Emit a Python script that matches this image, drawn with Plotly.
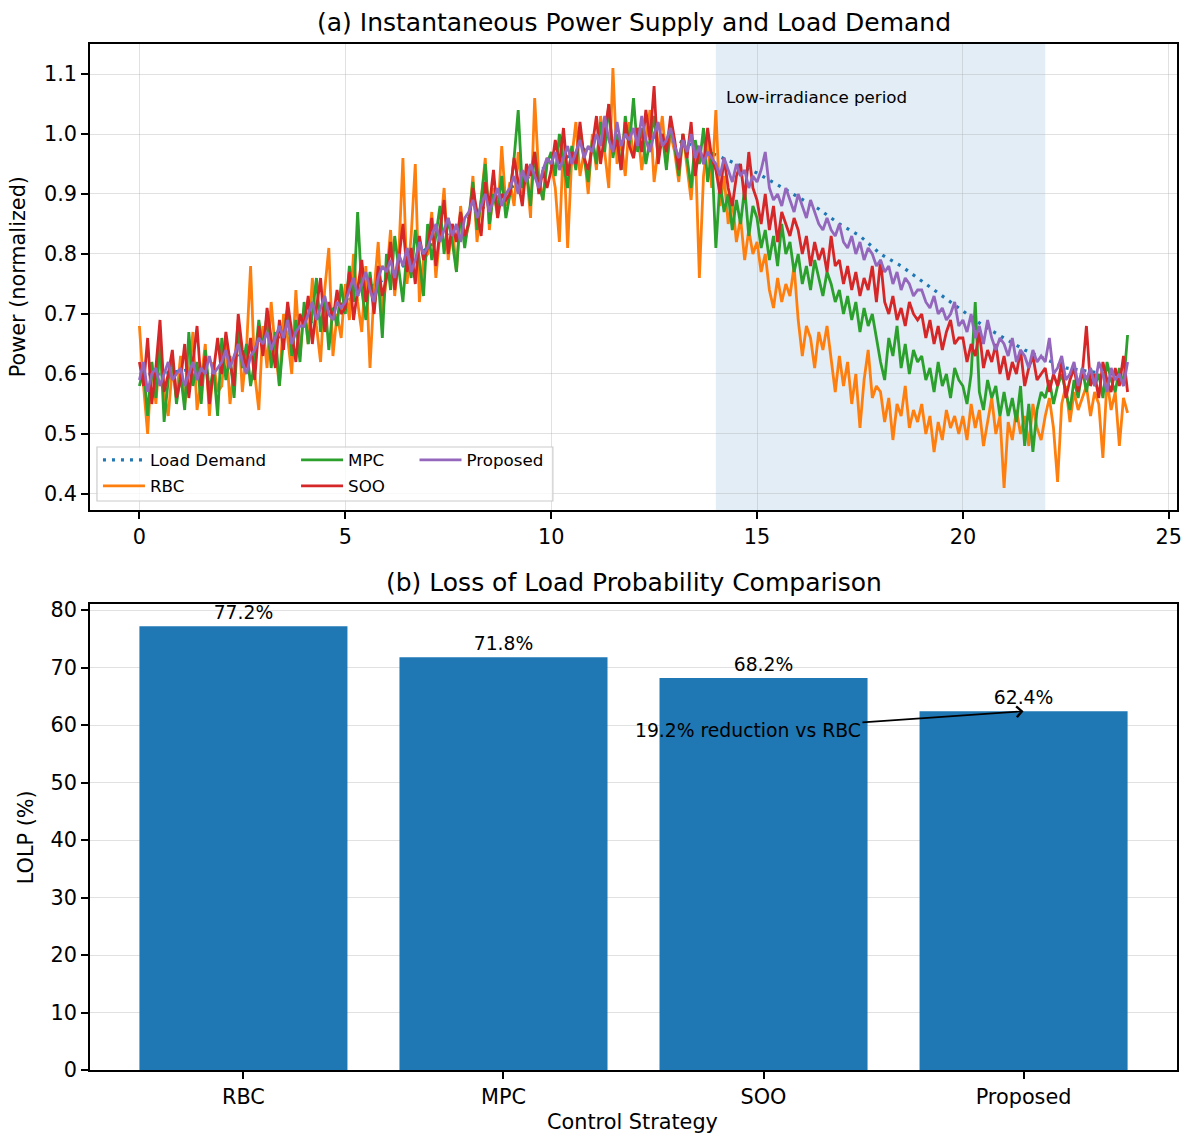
import plotly.graph_objects as go

FONT = "DejaVu Sans"

# ---------------- Data: panel (a) ----------------
# Load demand, sampled every 0.5 h (hours 0..24)
load_step = 0.5
load_demand = [0.60, 0.60, 0.605, 0.61, 0.62, 0.635, 0.65, 0.665, 0.68, 0.70,
               0.72, 0.74, 0.76, 0.785, 0.81, 0.835, 0.86, 0.885, 0.91, 0.93,
               0.95, 0.965, 0.98, 0.99, 0.995, 0.995, 0.99, 0.98, 0.965, 0.95,
               0.935, 0.915, 0.895, 0.875, 0.85, 0.83, 0.80, 0.78, 0.755, 0.73,
               0.705, 0.68, 0.66, 0.64, 0.625, 0.61, 0.605, 0.60, 0.60]

# Supplied power per strategy, sampled every 0.1 h (hours 0..24)
series_step = 0.1
rbc = [
    0.68, 0.58, 0.50, 0.62, 0.55, 0.64, 0.57, 0.53, 0.61, 0.56,
    0.63, 0.55, 0.60, 0.67, 0.54, 0.59, 0.65, 0.53, 0.62, 0.57,
    0.58, 0.66, 0.55, 0.61, 0.69, 0.57, 0.64, 0.78, 0.60, 0.54,
    0.68, 0.61, 0.72, 0.64, 0.58, 0.70, 0.66, 0.60, 0.74, 0.63,
    0.71, 0.65, 0.76, 0.68, 0.62, 0.74, 0.81, 0.63, 0.70, 0.66,
    0.75, 0.69, 0.80, 0.72, 0.67, 0.78, 0.61, 0.74, 0.82, 0.70,
    0.76, 0.84, 0.73, 0.80, 0.96, 0.75, 0.83, 0.95, 0.72, 0.79,
    0.80, 0.87, 0.76, 0.84, 0.91, 0.79, 0.85, 0.77, 0.88, 0.82,
    0.85, 0.93, 0.82, 0.89, 0.96, 0.84, 0.91, 0.86, 0.98, 0.88,
    0.92, 0.88, 0.97, 0.90, 0.94, 0.86, 1.06, 0.93, 0.89, 0.96,
    0.95, 0.91, 0.82, 0.99, 0.81, 0.96, 1.02, 0.93, 0.97, 0.90,
    1.00, 0.94, 1.03, 0.97, 0.91, 1.11, 0.95, 0.99, 0.93, 1.02,
    0.96, 1.01, 0.94, 0.99, 1.04, 0.92, 0.98, 1.03, 0.95, 1.00,
    0.97, 0.92, 1.00, 0.94, 0.89, 0.98, 0.76, 0.93, 0.99, 0.91,
    1.04, 0.88, 0.93, 0.85, 0.89, 0.82, 0.86, 0.79, 0.84, 0.80,
    0.82, 0.77, 0.80, 0.74, 0.71, 0.76, 0.72, 0.75, 0.73, 0.78,
    0.69, 0.63, 0.68, 0.66, 0.61, 0.67, 0.64, 0.68, 0.62, 0.57,
    0.63, 0.58, 0.62, 0.55, 0.60, 0.51, 0.59, 0.64, 0.56, 0.58,
    0.57, 0.52, 0.56, 0.49, 0.55, 0.53, 0.58, 0.51, 0.54, 0.52,
    0.55, 0.50, 0.53, 0.47, 0.52, 0.49, 0.54, 0.51, 0.53, 0.50,
    0.53, 0.49, 0.55, 0.51, 0.54, 0.48, 0.52, 0.56, 0.50, 0.53,
    0.41, 0.52, 0.49, 0.54, 0.50, 0.53, 0.48, 0.55, 0.51, 0.49,
    0.53, 0.56, 0.51, 0.42, 0.55, 0.58, 0.52, 0.57, 0.54, 0.56,
    0.58, 0.53, 0.57, 0.55, 0.46, 0.59, 0.54, 0.57, 0.48, 0.56, 0.535,
]
mpc = [
    0.58, 0.61, 0.53, 0.62, 0.56, 0.66, 0.52, 0.59, 0.63, 0.55,
    0.60, 0.54, 0.67, 0.58, 0.62, 0.55, 0.64, 0.57, 0.61, 0.53,
    0.66, 0.59, 0.63, 0.56, 0.68, 0.61, 0.65, 0.58, 0.62, 0.69,
    0.64, 0.70, 0.61, 0.67, 0.58, 0.66, 0.71, 0.63, 0.69, 0.62,
    0.72, 0.65, 0.70, 0.76, 0.67, 0.73, 0.64, 0.71, 0.68, 0.75,
    0.70, 0.78, 0.72, 0.87, 0.74, 0.69, 0.77, 0.71, 0.76, 0.66,
    0.80, 0.74, 0.83, 0.77, 0.72, 0.81, 0.76, 0.84, 0.79, 0.73,
    0.85, 0.79, 0.83, 0.88, 0.80, 0.86, 0.82, 0.77, 0.87, 0.81,
    0.86, 0.92, 0.84, 0.89, 0.95, 0.85, 0.90, 0.87, 0.93, 0.86,
    0.90, 0.96, 1.04, 0.91, 0.94, 0.88, 0.97, 0.92, 0.89, 0.95,
    0.97, 0.93, 1.00, 0.95, 0.91, 0.98, 0.94, 1.01, 0.96, 0.92,
    0.99, 0.95, 1.02, 0.97, 1.05, 0.96, 1.00, 0.94, 1.03, 0.98,
    1.06, 0.97, 1.01, 0.95, 0.99, 1.03, 0.96, 1.00, 0.94, 1.02,
    0.98, 0.93, 1.00, 0.96, 0.91, 0.99, 0.95, 1.01, 0.92, 0.97,
    0.81, 0.92, 0.87, 0.90, 0.84, 0.89, 0.85, 0.91, 0.83, 0.88,
    0.86, 0.81, 0.84, 0.79, 0.83, 0.78, 0.85, 0.80, 0.82, 0.77,
    0.80, 0.75, 0.78, 0.74, 0.79, 0.76, 0.73, 0.77, 0.75, 0.72,
    0.74, 0.70, 0.73, 0.69, 0.72, 0.67, 0.71, 0.68, 0.70, 0.66,
    0.62, 0.59, 0.66, 0.63, 0.68, 0.61, 0.65, 0.60, 0.64, 0.62,
    0.63, 0.59, 0.61, 0.57, 0.62, 0.58, 0.60, 0.56, 0.61, 0.59,
    0.58, 0.55, 0.60, 0.72, 0.57, 0.54, 0.59, 0.56, 0.58, 0.53,
    0.57, 0.53, 0.56, 0.52, 0.58, 0.48, 0.55, 0.47, 0.54, 0.57,
    0.56, 0.59, 0.55, 0.58, 0.60, 0.57, 0.54, 0.59, 0.56, 0.61,
    0.57, 0.61, 0.58, 0.60, 0.56, 0.62, 0.59, 0.57, 0.61, 0.58, 0.665,
]
soo = [
    0.62, 0.58, 0.66, 0.55, 0.61, 0.69, 0.57, 0.60, 0.64, 0.56,
    0.59, 0.65, 0.56, 0.62, 0.68, 0.58, 0.63, 0.55, 0.61, 0.66,
    0.60, 0.67, 0.62, 0.58, 0.70, 0.64, 0.61, 0.66, 0.59, 0.68,
    0.63, 0.71, 0.66, 0.61, 0.69, 0.64, 0.72, 0.67, 0.62, 0.70,
    0.68, 0.73, 0.65, 0.71, 0.76, 0.67, 0.72, 0.69, 0.74, 0.70,
    0.71, 0.77, 0.69, 0.74, 0.79, 0.72, 0.76, 0.70, 0.78, 0.73,
    0.76, 0.82, 0.74, 0.79, 0.85, 0.77, 0.81, 0.75, 0.83, 0.79,
    0.81, 0.86, 0.78, 0.84, 0.89, 0.80, 0.85, 0.82, 0.87, 0.83,
    0.85, 0.91, 0.87, 0.83, 0.92, 0.88, 0.94, 0.86, 0.90, 0.89,
    0.90, 0.96, 0.92, 0.88, 0.95, 0.93, 0.97, 0.90, 0.94, 0.91,
    0.94, 0.99, 0.95, 1.01, 0.93, 0.97, 0.95, 1.02, 0.96, 0.94,
    0.98, 1.03, 0.95, 1.00, 1.05, 0.97, 0.99, 0.94, 1.02, 0.98,
    0.96, 1.01, 0.97, 1.04, 0.99, 1.08, 0.95, 1.00, 0.97, 1.03,
    0.99, 0.94, 1.00, 0.96, 1.02, 0.93, 0.98, 0.95, 1.01, 0.96,
    0.94, 0.90, 0.96, 0.91, 0.88, 0.93, 0.95, 0.89, 0.97, 0.91,
    0.89, 0.85, 0.90, 0.84, 0.88, 0.82, 0.87, 0.85, 0.83, 0.86,
    0.84, 0.80, 0.83, 0.78, 0.82, 0.79, 0.81, 0.77, 0.83, 0.78,
    0.79, 0.75, 0.78, 0.74, 0.77, 0.73, 0.76, 0.74, 0.78, 0.72,
    0.79, 0.72, 0.70, 0.73, 0.69, 0.71, 0.68, 0.72, 0.70, 0.69,
    0.70, 0.66, 0.69, 0.65, 0.68, 0.64, 0.67, 0.69, 0.65, 0.66,
    0.66, 0.62, 0.65, 0.63, 0.67, 0.61, 0.64, 0.62, 0.65, 0.60,
    0.63, 0.59, 0.62, 0.60, 0.64, 0.58, 0.61, 0.63, 0.59, 0.60,
    0.61, 0.57, 0.60, 0.58, 0.62, 0.56, 0.59, 0.61, 0.57, 0.60,
    0.68, 0.58, 0.60, 0.56, 0.62, 0.59, 0.57, 0.61, 0.58, 0.63, 0.57,
]
proposed = [
    0.59, 0.62, 0.57, 0.60, 0.61, 0.58, 0.60, 0.62, 0.59, 0.60,
    0.61, 0.58, 0.60, 0.62, 0.59, 0.61, 0.60, 0.63, 0.60, 0.61,
    0.62, 0.64, 0.61, 0.63, 0.65, 0.62, 0.60, 0.63, 0.64, 0.66,
    0.65, 0.67, 0.64, 0.66, 0.68, 0.66, 0.69, 0.65, 0.67, 0.68,
    0.68, 0.70, 0.72, 0.69, 0.71, 0.73, 0.70, 0.69, 0.72, 0.71,
    0.72, 0.74, 0.76, 0.73, 0.75, 0.77, 0.74, 0.72, 0.76, 0.78,
    0.77, 0.79, 0.76, 0.80, 0.78, 0.81, 0.77, 0.79, 0.82, 0.80,
    0.81, 0.83, 0.85, 0.82, 0.84, 0.86, 0.83, 0.85, 0.82, 0.86,
    0.87, 0.89, 0.86, 0.88, 0.90, 0.87, 0.89, 0.91, 0.88, 0.90,
    0.91, 0.93, 0.90, 0.94, 0.92, 0.95, 0.93, 0.91, 0.94, 0.96,
    0.95, 0.97, 0.94, 0.96, 0.98, 0.95, 0.97, 0.99, 0.96, 0.98,
    0.97, 1.00, 0.98, 1.03, 0.99, 0.97, 1.02, 0.98, 1.00, 0.99,
    1.01, 0.98, 1.03, 0.99, 0.97, 1.00, 1.02, 0.98, 0.99, 1.01,
    0.98, 0.96, 0.99, 0.97, 1.00, 0.96, 0.98, 0.95, 0.97, 0.96,
    0.95, 0.93, 0.96, 0.94, 0.92, 0.95, 0.93, 0.94, 0.91, 0.93,
    0.92, 0.94, 0.97, 0.91, 0.89, 0.90, 0.88, 0.91, 0.89, 0.87,
    0.90, 0.88, 0.86, 0.89, 0.87, 0.85, 0.84, 0.86, 0.84, 0.83,
    0.85, 0.82, 0.81, 0.83, 0.80, 0.82, 0.79, 0.81, 0.80, 0.78,
    0.79, 0.77, 0.78, 0.75, 0.77, 0.74, 0.76, 0.75, 0.73, 0.74,
    0.74, 0.72, 0.71, 0.73, 0.70, 0.71, 0.69, 0.70, 0.72, 0.68,
    0.69, 0.67, 0.70, 0.66, 0.68, 0.65, 0.69, 0.66, 0.64, 0.66,
    0.65, 0.63, 0.66, 0.62, 0.64, 0.63, 0.61, 0.64, 0.62, 0.63,
    0.62, 0.66, 0.60, 0.61, 0.63, 0.59, 0.60, 0.62, 0.58, 0.61,
    0.59, 0.61, 0.58, 0.62, 0.60, 0.57, 0.61, 0.59, 0.60, 0.58, 0.62,
]
low_irr_start, low_irr_end = 14, 22

# ---------------- Data: panel (b) ----------------
strategies = ["RBC", "MPC", "SOO", "Proposed"]
lolp = [77.2, 71.8, 68.2, 62.4]

# ---------------- Styles ----------------
C_BLUE = "#1f77b4"
C_ORANGE = "#ff7f0e"
C_GREEN = "#2ca02c"
C_RED = "#d62728"
C_PURPLE = "#9467bd"
GRID = "rgba(176,176,176,0.38)"
TICK_FS = 20.8
TITLE_FS = 25
LEG_FS = 16.7
ANN_FS = 18.75
LW = 2.8


def times(vals, step):
    return [round(i * step, 3) for i in range(len(vals))]


fig = go.Figure()

fig.add_trace(go.Scatter(x=times(load_demand, load_step), y=load_demand, mode="lines",
                         name="Load Demand", line=dict(color=C_BLUE, width=3.2, dash="3px,6px"),
                         xaxis="x", yaxis="y", legend="legend"))
fig.add_trace(go.Scatter(x=times(rbc, series_step), y=rbc, mode="lines", name="RBC",
                         line=dict(color=C_ORANGE, width=LW), xaxis="x", yaxis="y", legend="legend2"))
fig.add_trace(go.Scatter(x=times(mpc, series_step), y=mpc, mode="lines", name="MPC",
                         line=dict(color=C_GREEN, width=LW), xaxis="x", yaxis="y", legend="legend3"))
fig.add_trace(go.Scatter(x=times(soo, series_step), y=soo, mode="lines", name="SOO",
                         line=dict(color=C_RED, width=LW), xaxis="x", yaxis="y", legend="legend4"))
fig.add_trace(go.Scatter(x=times(proposed, series_step), y=proposed, mode="lines", name="Proposed",
                         line=dict(color=C_PURPLE, width=LW), xaxis="x", yaxis="y", legend="legend5"))

fig.add_trace(go.Bar(x=strategies, y=lolp, width=0.8, marker=dict(color=C_BLUE, line=dict(width=0)),
                     text=[f"{v:.1f}%" for v in lolp], textposition="outside",
                     textfont=dict(size=ANN_FS, color="black", family=FONT), cliponaxis=False,
                     xaxis="x2", yaxis="y2", showlegend=False))

axis_common = dict(showline=True, linecolor="black", linewidth=1.6, mirror=True,
                   ticks="outside", ticklen=7, tickwidth=1.6, tickcolor="black",
                   zeroline=False, tickfont=dict(size=TICK_FS, color="black", family=FONT),
                   gridcolor=GRID, gridwidth=1.4)

top_dom = [(1070 - 510) / 1026, 1.0]
bot_dom = [0.0, (1070 - 604) / 1026]

legend_common = dict(bgcolor="rgba(0,0,0,0)", borderwidth=0,
                     font=dict(size=LEG_FS, color="black", family=FONT),
                     itemwidth=42, xanchor="left", yanchor="middle", tracegroupgap=0)
col_x = [(98 - 90) / 1092, (297 - 90) / 1092, (416 - 90) / 1092]
row_y = [(1070 - 460) / 1026, (1070 - 486) / 1026]

fig.update_layout(
    width=1191, height=1135,
    margin=dict(l=90, r=9, t=44, b=65),
    plot_bgcolor="white", paper_bgcolor="white",
    font=dict(family=FONT, size=TICK_FS, color="black"),
    xaxis=dict(domain=[0, 1], anchor="y", range=[-1.2, 25.2], tickvals=[0, 5, 10, 15, 20, 25],
               showgrid=True, **axis_common),
    yaxis=dict(domain=top_dom, anchor="x", range=[0.3733, 1.15], tick0=0.4, dtick=0.1,
               tickformat=".1f", showgrid=True, **axis_common),
    xaxis2=dict(domain=[0, 1], anchor="y2", range=[-0.59, 3.59], showgrid=False, **axis_common),
    yaxis2=dict(domain=bot_dom, anchor="x2", range=[0, 81.06], tick0=0, dtick=10,
                showgrid=True, layer="above traces", **axis_common),
    legend=dict(x=col_x[0], y=row_y[0], **legend_common),
    legend2=dict(x=col_x[0], y=row_y[1], **legend_common),
    legend3=dict(x=col_x[1], y=row_y[0], **legend_common),
    legend4=dict(x=col_x[1], y=row_y[1], **legend_common),
    legend5=dict(x=col_x[2], y=row_y[0], **legend_common),
    bargap=0.2,
)

# shaded low-irradiance period and legend frame
fig.add_shape(type="rect", xref="x", yref="y domain", x0=low_irr_start, x1=low_irr_end, y0=0, y1=1,
              fillcolor="rgba(31,119,180,0.13)", line=dict(width=0), layer="below")
fig.add_shape(type="rect", xref="x domain", yref="y domain",
              x0=(97 - 90) / 1092, x1=(555 - 90) / 1092, y0=(510 - 501) / 466, y1=(510 - 447) / 466,
              fillcolor="rgba(255,255,255,0.8)", line=dict(color="#cccccc", width=1.2), layer="above")

reduction = (lolp[0] - lolp[-1]) / lolp[0] * 100

annotations = [
    dict(text="(a) Instantaneous Power Supply and Load Demand", x=0.5, y=(1070 - 22) / 1026,
         xref="paper", yref="paper", showarrow=False, xanchor="center", yanchor="middle",
         font=dict(size=TITLE_FS, family=FONT, color="black")),
    dict(text="(b) Loss of Load Probability Comparison", x=0.5, y=(1070 - 582) / 1026,
         xref="paper", yref="paper", showarrow=False, xanchor="center", yanchor="middle",
         font=dict(size=TITLE_FS, family=FONT, color="black")),
    dict(text="Power (normalized)", x=(18 - 90) / 1092, y=(1070 - 277) / 1026, xref="paper", yref="paper",
         showarrow=False, textangle=-90, xanchor="center", yanchor="middle",
         font=dict(size=TICK_FS, family=FONT, color="black")),
    dict(text="LOLP (%)", x=(26 - 90) / 1092, y=(1070 - 837) / 1026, xref="paper", yref="paper",
         showarrow=False, textangle=-90, xanchor="center", yanchor="middle",
         font=dict(size=TICK_FS, family=FONT, color="black")),
    dict(text="Control Strategy", x=(635 - 90) / 1092, y=(1070 - 1122) / 1026, xref="paper", yref="paper",
         showarrow=False, xanchor="center", yanchor="middle",
         font=dict(size=TICK_FS, family=FONT, color="black")),
    dict(text="Low-irradiance period", x=low_irr_start + 0.2, y=1.062, xref="x", yref="y",
         showarrow=False, xanchor="left", yanchor="middle",
         font=dict(size=LEG_FS, family=FONT, color="black")),
    dict(text=f"{reduction:.1f}% reduction vs RBC", x=3, y=lolp[-1], xref="x2", yref="y2",
         ax=1.94, ay=59.1, axref="x2", ayref="y2", showarrow=True, arrowhead=4, arrowsize=1.3,
         arrowwidth=1.6, arrowcolor="black", standoff=0,
         font=dict(size=ANN_FS, family=FONT, color="black")),
]
fig.update_layout(annotations=annotations)

fig.write_html("out.html")
